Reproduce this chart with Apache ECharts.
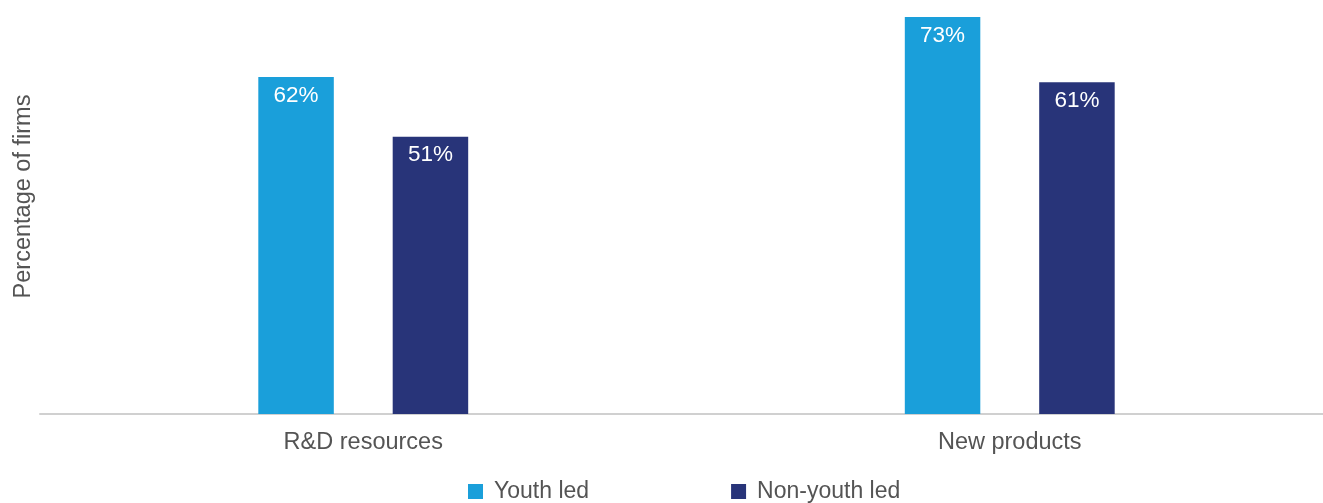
<!DOCTYPE html>
<html>
<head>
<meta charset="utf-8">
<script src="https://cdn.jsdelivr.net/npm/echarts@6/dist/echarts.min.js"></script>
<style>
  html, body { margin: 0; padding: 0; background: #ffffff; }
  #chart { width: 1323px; height: 503px; }
</style>
</head>
<body>
<div id="chart"></div>
<script>
// Categories and values (percentage of firms)
const categories = ['R&D resources', 'New products'];
const youthLed = [62, 73];
const nonYouthLed = [51, 61];
const seriesNames = ['Youth led', 'Non-youth led'];

const FONT = '"Liberation Sans", Arial, Helvetica, sans-serif';
const TEXT_COLOR = '#545454';
const COLORS = ['#1A9FDA', '#283479'];

const chart = echarts.init(document.getElementById('chart'), null, { renderer: 'canvas' });

const valueLabel = {
  show: true,
  position: 'insideTop',
  distance: 7,
  color: '#ffffff',
  fontFamily: FONT,
  fontSize: 22.5,
  formatter: p => p.value + '%'
};

chart.setOption({
  animation: false,
  color: COLORS,
  grid: { left: 40, right: -10, top: -21, bottom: 89, containLabel: false, outerBoundsMode: 'none' },
  legend: {
    data: seriesNames,
    left: 463,
    top: 475,
    itemWidth: 15,
    itemHeight: 15,
    itemGap: 142,
    icon: 'rect',
    textStyle: { color: TEXT_COLOR, fontFamily: FONT, fontSize: 23, padding: [0, 0, 0, 6] }
  },
  xAxis: {
    type: 'category',
    data: categories,
    axisLine: { show: true, lineStyle: { color: '#D0D0D0', width: 2 } },
    axisTick: { show: false },
    axisLabel: { color: TEXT_COLOR, fontFamily: FONT, fontSize: 23.5, margin: 17 }
  },
  yAxis: {
    type: 'value',
    min: 0,
    max: 80,
    interval: 10,
    name: 'Percentage of firms',
    nameLocation: 'middle',
    nameGap: 4,
    nameTextStyle: { color: TEXT_COLOR, fontFamily: FONT, fontSize: 23.5 },
    axisLine: { show: false },
    axisTick: { show: false },
    axisLabel: { show: false },
    splitLine: { show: false }
  },
  series: [
    {
      name: seriesNames[0],
      type: 'bar',
      data: youthLed,
      barWidth: 75.5,
      barGap: '78%',
      label: valueLabel
    },
    {
      name: seriesNames[1],
      type: 'bar',
      data: nonYouthLed,
      barWidth: 75.5,
      barGap: '78%',
      label: valueLabel
    }
  ]
});
</script>
</body>
</html>
